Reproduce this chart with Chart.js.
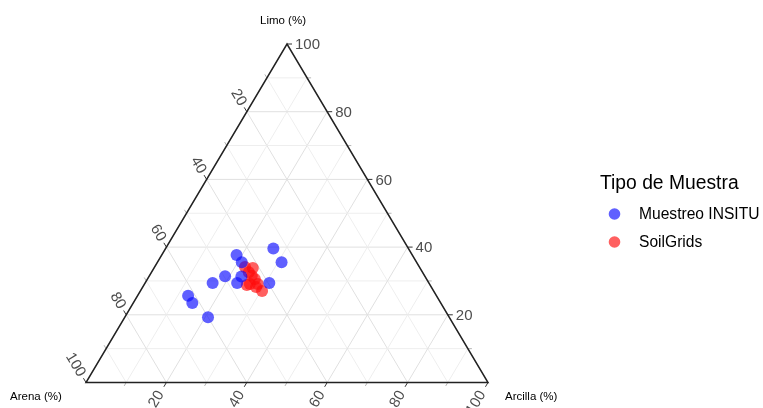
<!DOCTYPE html>
<html>
<head>
<meta charset="utf-8">
<script src="https://cdn.jsdelivr.net/npm/chart.js@4.4.1/dist/chart.umd.min.js"></script>
<style>
  html, body { margin: 0; padding: 0; background: #fff; }
  #wrap { width: 763px; height: 408px; }
</style>
</head>
<body>
<div id="wrap"><canvas id="tern" width="763" height="408"></canvas></div>
<script>
// Composición (%): Arena, Limo, Arcilla
const insituArena   = [33.6, 33.6, 43.7, 43.5, 49.7, 53.8, 47.7, 45.7, 39.7, 61.8, 61.8, 60.0];
const insituLimo    = [39.6, 35.5, 37.7, 35.5, 31.4, 29.4, 29.4, 31.3, 29.4, 25.6, 23.5, 19.3];
const insituArcilla = [26.8, 30.9, 18.6, 21.0, 18.9, 16.8, 22.9, 23.0, 30.9, 12.6, 14.7, 20.7];

const soilArena   = [43.4, 41.6, 43.2, 43.0, 42.7, 44.7, 42.7, 45.6, 42.7, 43.6];
const soilLimo    = [34.1, 33.8, 32.6, 31.5, 30.6, 29.1, 29.1, 28.8, 27.0, 28.2];
const soilArcilla = [22.5, 24.6, 24.2, 25.5, 26.7, 26.2, 28.2, 25.6, 30.3, 28.2];

const majorTicks = [20, 40, 60, 80, 100];
const minorTicks = [10, 30, 50, 70, 90];
const gridSteps  = [10, 20, 30, 40, 50, 60, 70, 80, 90];

const BLUE = 'rgba(10, 10, 255, 0.65)';
const RED  = 'rgba(255, 10, 10, 0.65)';
const FONT = "'Liberation Sans', Arial, sans-serif";

// ternario -> cartesiano (x: 0..100, y = limo)
function toXY( arcilla, limo ) {
	return { x: arcilla + limo / 2, y: limo };
}

const insituPts = insituLimo.map( ( l, i ) => toXY( insituArcilla[ i ], l ) );
const soilPts   = soilLimo.map( ( l, i ) => toXY( soilArcilla[ i ], l ) );

const ternaryPlugin = {
	id: 'ternary',
	beforeDatasetsDraw( chart ) {
		const ctx = chart.ctx;
		const sx = chart.scales.x, sy = chart.scales.y;
		const P = ( arc, limo ) => {
			const p = toXY( arc, limo );
			return [ sx.getPixelForValue( p.x ), sy.getPixelForValue( p.y ) ];
		};
		const line = ( a, b ) => {
			ctx.beginPath();
			ctx.moveTo( a[0], a[1] );
			ctx.lineTo( b[0], b[1] );
			ctx.stroke();
		};
		const norm = ( a, b ) => {
			const dx = a[0] - b[0], dy = a[1] - b[1];
			const l = Math.hypot( dx, dy );
			return [ dx / l, dy / l ];
		};

		ctx.save();
		ctx.lineWidth = 1;

		// grid
		gridSteps.forEach( v => {
			ctx.strokeStyle = v % 20 === 0 ? '#e0e0e0' : '#eeeeee';
			line( P( 0, v ), P( 100 - v, v ) );          // limo
			line( P( v, 0 ), P( v, 100 - v ) );          // arcilla
			line( P( 100 - v, 0 ), P( 0, 100 - v ) );    // arena
		} );

		// direcciones de las marcas
		const dirLeft   = norm( P( 0, 50 ), P( 50, 0 ) );
		const dirBottom = norm( P( 50, 0 ), P( 50, 50 ) );
		const dirRight  = [ 1, 0 ];

		const edgeLeft   = v => P( 0, 100 - v );
		const edgeBottom = v => P( v, 0 );
		const edgeRight  = v => P( 100 - v, v );

		const tick = ( e, d, len ) => line( e, [ e[0] + d[0] * len, e[1] + d[1] * len ] );

		ctx.strokeStyle = '#b5b5b5';
		minorTicks.forEach( v => {
			tick( edgeLeft( v ), dirLeft, 4 );
			tick( edgeBottom( v ), dirBottom, 4 );
			tick( edgeRight( v ), dirRight, 4 );
		} );
		ctx.strokeStyle = '#333';
		majorTicks.forEach( v => {
			tick( edgeLeft( v ), dirLeft, 5 );
			tick( edgeBottom( v ), dirBottom, 5 );
			tick( edgeRight( v ), dirRight, 5 );
		} );

		// borde del triángulo
		ctx.strokeStyle = '#222';
		ctx.lineWidth = 1.5;
		ctx.beginPath();
		const a = P( 0, 0 ), b = P( 100, 0 ), c = P( 0, 100 );
		ctx.moveTo( a[0], a[1] );
		ctx.lineTo( b[0], b[1] );
		ctx.lineTo( c[0], c[1] );
		ctx.closePath();
		ctx.stroke();

		// etiquetas de marcas
		ctx.fillStyle = '#4d4d4d';
		ctx.font = '15px ' + FONT;
		const rotLabel = ( e, d, gap, txt ) => {
			ctx.save();
			ctx.translate( e[0] + d[0] * gap, e[1] + d[1] * gap );
			ctx.rotate( Math.atan2( -d[1], -d[0] ) );
			ctx.textAlign = 'right';
			ctx.textBaseline = 'middle';
			ctx.fillText( txt, 0, 0 );
			ctx.restore();
		};
		majorTicks.forEach( v => {
			rotLabel( edgeLeft( v ), dirLeft, 8, String( v ) );
			rotLabel( edgeBottom( v ), dirBottom, 11, String( v ) );
			const r = edgeRight( v );
			ctx.textAlign = 'left';
			ctx.textBaseline = 'middle';
			ctx.fillText( String( v ), r[0] + 8, r[1] + 1 );
		} );

		// títulos de los ejes
		ctx.fillStyle = '#000';
		ctx.font = '11.5px ' + FONT;
		ctx.textBaseline = 'middle';
		ctx.textAlign = 'center';
		ctx.fillText( 'Limo (%)', c[0] - 4, 21 );
		ctx.textAlign = 'left';
		ctx.fillText( 'Arena (%)', 10, 397 );
		ctx.fillText( 'Arcilla (%)', 505, 397 );

		ctx.restore();
	},
	afterDraw( chart ) {
		// leyenda
		const ctx = chart.ctx;
		ctx.save();
		ctx.fillStyle = '#000';
		ctx.textBaseline = 'middle';
		ctx.textAlign = 'left';
		ctx.font = '19.3px ' + FONT;
		ctx.fillText( 'Tipo de Muestra', 600, 184 );
		ctx.font = '15.6px ' + FONT;
		chart.data.datasets.forEach( ( ds, i ) => {
			const y = 214 + i * 28;
			ctx.fillStyle = ds.backgroundColor;
			ctx.beginPath();
			ctx.arc( 614.5, y, 5.8, 0, Math.PI * 2 );
			ctx.fill();
			ctx.fillStyle = '#000';
			ctx.fillText( ds.label, 639, y + 1 );
		} );
		ctx.restore();
	},
};

new Chart( document.getElementById( 'tern' ), {
	type: 'scatter',
	data: {
		datasets: [
			{
				label          : 'Muestreo INSITU',
				data           : insituPts,
				backgroundColor: BLUE,
				borderWidth    : 0,
				pointRadius    : 6,
			},
			{
				label          : 'SoilGrids',
				data           : soilPts,
				backgroundColor: RED,
				borderWidth    : 0,
				pointRadius    : 6,
			},
		],
	},
	options: {
		responsive: false,
		animation: false,
		layout: { padding: { left: 86, right: 275, top: 44, bottom: 25.5 } },
		scales: {
			x: { type: 'linear', min: 0, max: 100, display: false },
			y: { type: 'linear', min: 0, max: 100, display: false },
		},
		plugins: {
			legend: { display: false },
			tooltip: { enabled: false },
		},
	},
	plugins: [ ternaryPlugin ],
} );
</script>
</body>
</html>
